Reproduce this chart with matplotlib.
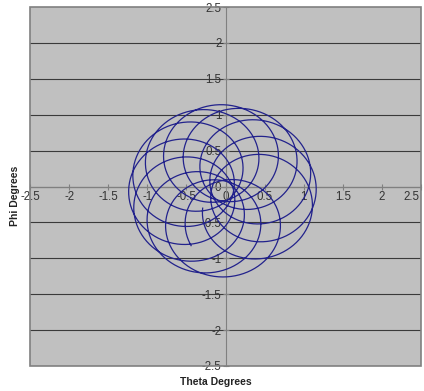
import numpy as np
import matplotlib
matplotlib.use("Agg")
import matplotlib.pyplot as plt
from matplotlib.patches import Rectangle

plt.rcParams['font.family'] = ['Liberation Sans', 'DejaVu Sans']

# precession (slow) and nutation (fast) components of the motion, in degrees
precession_radius = 0.53
nutation_radius = 0.67
centre_offset = (-0.04, -0.06)
loops = 12.09
precession_per_loop = np.radians(27.5)
precession_start = np.radians(320.8)
nutation_start = np.radians(172.0)

ticks = [-2.5, -2, -1.5, -1, -0.5, 0, 0.5, 1, 1.5, 2, 2.5]
tick_labels = ["-2.5", "-2", "-1.5", "-1", "-0.5", "0", "0.5", "1", "1.5", "2", "2.5"]

u = np.linspace(0, loops, 3000)
a = precession_start + precession_per_loop * u
b = nutation_start + 2 * np.pi * u
theta = centre_offset[0] + precession_radius * np.cos(a) + nutation_radius * np.cos(b)
phi = centre_offset[1] + precession_radius * np.sin(a) + nutation_radius * np.sin(b)

fig = plt.figure(figsize=(4.24, 3.91), dpi=100)
ax = fig.add_axes([0.071, 0.064, 0.922, 0.918])
ax.set_facecolor('#c0c0c0')

ax.plot(theta, phi, color='#22228c', lw=0.9, zorder=3)

ax.set_xlim(-2.5, 2.5)
ax.set_ylim(-2.5, 2.5)
ax.set_xticks(ticks)
ax.set_xticklabels(tick_labels[:-1] + [""])
ax.set_yticks(ticks)
ax.set_yticklabels(tick_labels)

# last x label pulled in a little so it stays inside the figure
ax.annotate(tick_labels[-1], xy=(ticks[-1], 0), xytext=(-1, -3),
            textcoords='offset points', ha='right', va='top',
            fontsize=8.3, color='#333333')

for y in ticks[1:-1]:
    ax.axhline(y, color='#3a3a3a', lw=0.8, zorder=1)

for side in ['top', 'right']:
    ax.spines[side].set_visible(False)
ax.spines['left'].set_position(('data', 0))
ax.spines['bottom'].set_position(('data', 0))
ax.spines['left'].set_color('#808080')
ax.spines['bottom'].set_color('#808080')
ax.spines['left'].set_zorder(2)
ax.spines['bottom'].set_zorder(2)
ax.tick_params(direction='inout', length=4, color='#808080', labelsize=8.3,
               labelcolor='#333333', pad=1)

ax.add_patch(Rectangle((0, 0), 1, 1, transform=ax.transAxes, fill=False,
                       edgecolor='#808080', lw=1.2, zorder=4, clip_on=False))

fig.text(0.035, 0.5, 'Phi Degrees', rotation=90, ha='center', va='center',
         fontsize=7.5, fontweight='bold', color='#222222')
fig.text(0.51, 0.022, 'Theta Degrees', ha='center', va='center',
         fontsize=7.5, fontweight='bold', color='#222222')

fig.savefig('out.png', dpi=100)
